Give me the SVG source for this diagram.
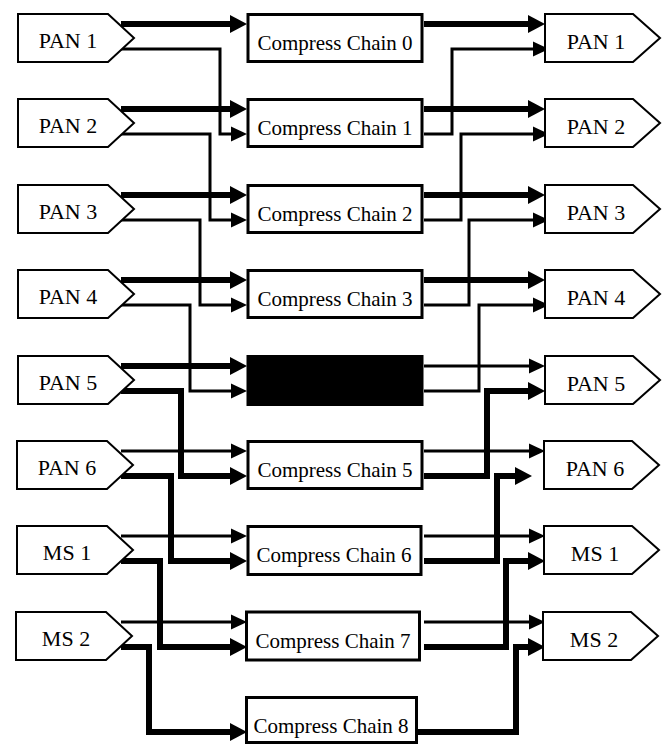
<svg xmlns="http://www.w3.org/2000/svg" width="665" height="744" viewBox="0 0 665 744">
<style>
.node{fill:#fff;stroke:#000;stroke-width:2}
.cc{fill:#fff;stroke:#000;stroke-width:3}
.lbl{font-family:"Liberation Serif","Times New Roman",serif;font-size:22px;fill:#000;text-anchor:middle}
.cct{font-family:"Liberation Serif","Times New Roman",serif;font-size:21px;fill:#000;text-anchor:middle}
.thick{fill:none;stroke:#000;stroke-width:6;stroke-linejoin:miter;marker-end:url(#ah)}
.thin{fill:none;stroke:#000;stroke-width:3;stroke-linejoin:miter;marker-end:url(#al)}
</style>
<defs>
<marker id="ah" markerUnits="userSpaceOnUse" markerWidth="18" markerHeight="18" refX="7" refY="9" orient="auto" viewBox="0 0 18 18"><path d="M0,0 L17,9 L0,18 z" fill="#000"/></marker>
<marker id="al" markerUnits="userSpaceOnUse" markerWidth="16" markerHeight="16" refX="6" refY="8" orient="auto" viewBox="0 0 16 16"><path d="M0,0.5 L16,8 L0,15.5 z" fill="#000"/></marker>
</defs>
<g id="connectors">
<path class="thick" d="M121,24 H237"/>
<path class="thick" d="M121,109 H237"/>
<path class="thick" d="M121,195 H237"/>
<path class="thick" d="M121,280 H237"/>
<path class="thick" d="M121,366 H237"/>
<path class="thin" d="M121,451 H237"/>
<path class="thin" d="M121,536 H237"/>
<path class="thin" d="M121,622 H237"/>
<path class="thin" d="M121,49 H220 V134 H237"/>
<path class="thin" d="M121,134 H210 V220 H237"/>
<path class="thin" d="M121,220 H200 V305 H237"/>
<path class="thin" d="M121,305 H190 V391 H237"/>
<path class="thick" d="M121,391 H181 V476 H237"/>
<path class="thick" d="M121,476 H171 V561 H237"/>
<path class="thick" d="M121,561 H160 V647 H237"/>
<path class="thick" d="M121,647 H149 V732 H237"/>
<path class="thick" d="M424,24 H535"/>
<path class="thick" d="M424,109 H535"/>
<path class="thick" d="M424,195 H535"/>
<path class="thick" d="M424,280 H535"/>
<path class="thin" d="M424,366 H535"/>
<path class="thin" d="M424,451 H535"/>
<path class="thin" d="M424,536 H535"/>
<path class="thin" d="M424,622 H535"/>
<path class="thin" d="M424,134 H452 V49 H539"/>
<path class="thin" d="M424,220 H461 V134 H539"/>
<path class="thin" d="M424,305 H469 V220 H539"/>
<path class="thin" d="M424,391 H479 V305 H539"/>
<path class="thick" d="M424,476 H487 V391 H535"/>
<path class="thick" d="M424,561 H497 V476 H522"/>
<path class="thick" d="M424,647 H506 V561 H535"/>
<path class="thick" d="M418,732 H516 V647 H535"/>
</g>
<g id="in-pan1"><polygon class="node" points="18,14 108,14 134,38 108,62 18,62"/><text class="lbl" x="68" y="48">PAN 1</text></g>
<g id="in-pan2"><polygon class="node" points="18,99 108,99 134,123 108,147 18,147"/><text class="lbl" x="68" y="133">PAN 2</text></g>
<g id="in-pan3"><polygon class="node" points="18,185 108,185 134,209 108,233 18,233"/><text class="lbl" x="68" y="219">PAN 3</text></g>
<g id="in-pan4"><polygon class="node" points="18,270 108,270 134,294 108,318 18,318"/><text class="lbl" x="68" y="304">PAN 4</text></g>
<g id="in-pan5"><polygon class="node" points="18,356 108,356 134,380 108,404 18,404"/><text class="lbl" x="68" y="390">PAN 5</text></g>
<g id="in-pan6"><polygon class="node" points="17,441 107,441 133,465 107,489 17,489"/><text class="lbl" x="67" y="475">PAN 6</text></g>
<g id="in-ms1"><polygon class="node" points="17,526 107,526 133,550 107,574 17,574"/><text class="lbl" x="67" y="560">MS 1</text></g>
<g id="in-ms2"><polygon class="node" points="16,612 106,612 132,636 106,660 16,660"/><text class="lbl" x="66" y="646">MS 2</text></g>
<g id="cc0"><rect class="cc" x="248" y="14.5" width="174" height="47"/><text class="cct" x="335" y="50">Compress Chain 0</text></g>
<g id="cc1"><rect class="cc" x="248" y="99.5" width="174" height="47"/><text class="cct" x="335" y="135">Compress Chain 1</text></g>
<g id="cc2"><rect class="cc" x="248" y="185.5" width="174" height="47"/><text class="cct" x="335" y="221">Compress Chain 2</text></g>
<g id="cc3"><rect class="cc" x="248" y="270.5" width="174" height="47"/><text class="cct" x="335" y="306">Compress Chain 3</text></g>
<g id="cc4"><rect x="246.5" y="355" width="177" height="51" fill="#000"/></g>
<g id="cc5"><rect class="cc" x="248" y="441.5" width="174" height="47"/><text class="cct" x="335" y="477">Compress Chain 5</text></g>
<g id="cc6"><rect class="cc" x="248" y="526.5" width="173" height="48"/><text class="cct" x="334" y="562">Compress Chain 6</text></g>
<g id="cc7"><rect class="cc" x="246.5" y="612" width="173" height="48"/><text class="cct" x="333" y="648">Compress Chain 7</text></g>
<g id="cc8"><rect class="cc" x="246.5" y="697.5" width="170" height="45"/><text class="cct" x="331" y="733">Compress Chain 8</text></g>
<g id="out-pan1"><polygon class="node" points="545,14 633,14 660,38 633,62 545,62"/><text class="lbl" x="596" y="49">PAN 1</text></g>
<g id="out-pan2"><polygon class="node" points="545,99 633,99 660,123 633,147 545,147"/><text class="lbl" x="596" y="134">PAN 2</text></g>
<g id="out-pan3"><polygon class="node" points="545,185 633,185 660,209 633,233 545,233"/><text class="lbl" x="596" y="220">PAN 3</text></g>
<g id="out-pan4"><polygon class="node" points="545,270 633,270 660,294 633,318 545,318"/><text class="lbl" x="596" y="305">PAN 4</text></g>
<g id="out-pan5"><polygon class="node" points="545,356 633,356 660,380 633,404 545,404"/><text class="lbl" x="596" y="391">PAN 5</text></g>
<g id="out-pan6"><polygon class="node" points="544,441 632,441 659,465 632,489 544,489"/><text class="lbl" x="595" y="476">PAN 6</text></g>
<g id="out-ms1"><polygon class="node" points="544,526 632,526 659,550 632,574 544,574"/><text class="lbl" x="595" y="561">MS 1</text></g>
<g id="out-ms2"><polygon class="node" points="543,612 631,612 658,636 631,660 543,660"/><text class="lbl" x="594" y="647">MS 2</text></g>
</svg>
